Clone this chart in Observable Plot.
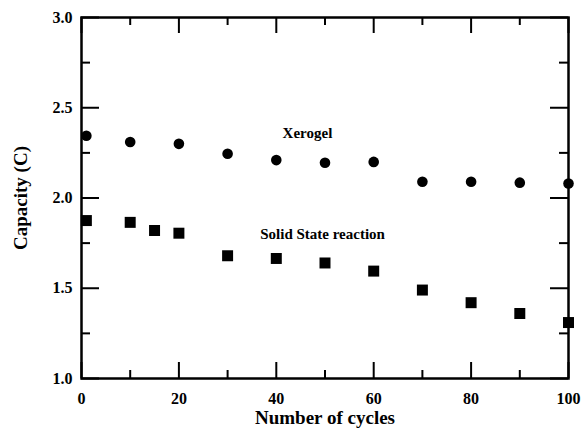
<!DOCTYPE html>
<html>
<head>
<meta charset="utf-8">
<script src="https://cdn.jsdelivr.net/npm/d3@7"></script>
<script src="https://cdn.jsdelivr.net/npm/@observablehq/plot@0.6"></script>
<style>
  html, body { margin: 0; padding: 0; background: #fff; }
  svg { display: block; }
  g[aria-label="x-axis label"] text, g[aria-label="y-axis label"] text { font-size: 19px; font-weight: bold; }
</style>
</head>
<body>
<div id="chart"></div>
<script>
// Data
const xerogelCycles = [1, 10, 20, 30, 40, 50, 60, 70, 80, 90, 100];
const xerogelCapacity = [2.345, 2.31, 2.30, 2.245, 2.21, 2.195, 2.20, 2.09, 2.09, 2.085, 2.08];
const solidCycles = [1, 10, 15, 20, 30, 40, 50, 60, 70, 80, 90, 100];
const solidCapacity = [1.875, 1.865, 1.82, 1.805, 1.68, 1.665, 1.64, 1.595, 1.49, 1.42, 1.36, 1.31];
const xTickLabels = [0, 20, 40, 60, 80, 100];
const xMinorTicks = [10, 30, 50, 70, 90];
const yTickLabels = [1.0, 1.5, 2.0, 2.5, 3.0];
const yMinorTicks = [1.25, 1.75, 2.25, 2.75];
const noteText = ["Xerogel", "Solid State reaction"];
const noteX = [46.4, 49.5];
const noteY = [2.36, 1.80];

const xerogel = xerogelCycles.map((c, i) => ({cycle: c, cap: xerogelCapacity[i]}));
const solid = solidCycles.map((c, i) => ({cycle: c, cap: solidCapacity[i]}));
const notes = noteText.map((t, i) => ({t, x: noteX[i], y: noteY[i]}));

const W = 583, H = 429;
const mL = 81, mR = 15, mT = 17, mB = 51;
const fh = H - mT - mB, fw = W - mL - mR;
const font = "'Liberation Serif', 'Times New Roman', serif";

const chart = Plot.plot({
  width: W, height: H,
  marginLeft: mL, marginRight: mR, marginTop: mT, marginBottom: mB,
  style: {fontFamily: font, fontWeight: "bold", fontSize: "16px", color: "#000", background: "#fff"},
  x: {domain: [0, 100]},
  y: {domain: [1, 3]},
  marks: [
    // inward ticks bottom/top
    Plot.tickX(xTickLabels, {x: d => d, insetTop: fh - 16, stroke: "#000", strokeWidth: 2}),
    Plot.tickX(xMinorTicks, {x: d => d, insetTop: fh - 8, stroke: "#000", strokeWidth: 2}),
    Plot.tickX(xTickLabels, {x: d => d, insetBottom: fh - 16, stroke: "#000", strokeWidth: 2}),
    Plot.tickX(xMinorTicks, {x: d => d, insetBottom: fh - 8, stroke: "#000", strokeWidth: 2}),
    // inward ticks left/right
    Plot.tickY(yTickLabels, {y: d => d, insetRight: fw - 18, stroke: "#000", strokeWidth: 2}),
    Plot.tickY(yMinorTicks, {y: d => d, insetRight: fw - 9, stroke: "#000", strokeWidth: 2}),
    Plot.tickY(yTickLabels, {y: d => d, insetLeft: fw - 18, stroke: "#000", strokeWidth: 2}),
    Plot.tickY(yMinorTicks, {y: d => d, insetLeft: fw - 9, stroke: "#000", strokeWidth: 2}),
    Plot.frame({stroke: "#000", strokeWidth: 2.5}),
    Plot.axisX({ticks: xTickLabels, tickSize: 0, tickPadding: 14, tickFormat: d => String(d),
      fontSize: 16, fontWeight: "bold",
      label: "Number of cycles", labelAnchor: "center", labelOffset: 45, labelArrow: false}),
    Plot.axisY({ticks: yTickLabels, tickSize: 0, tickPadding: 9, tickFormat: d3.format(".1f"),
      fontSize: 16, fontWeight: "bold",
      label: "Capacity (C)", labelAnchor: "center", labelOffset: 68, labelArrow: false}),
    Plot.dot(xerogel, {x: "cycle", y: "cap", symbol: "circle", r: 5.3, fill: "#000", stroke: "none"}),
    Plot.dot(solid, {x: "cycle", y: "cap", symbol: "square", r: 6.2, fill: "#000", stroke: "none"}),
    Plot.text(notes, {x: "x", y: "y", text: "t", fontSize: 15, fontWeight: "bold", fill: "#000"})
  ]
});
document.getElementById("chart").appendChild(chart);
</script>
</body>
</html>
